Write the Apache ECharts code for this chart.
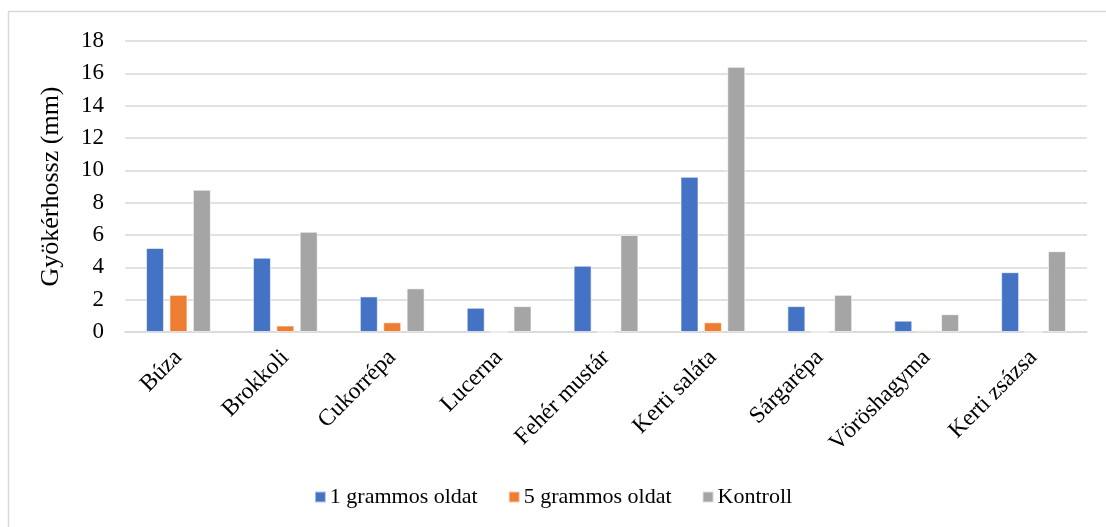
<!DOCTYPE html>
<html>
<head>
<meta charset="utf-8">
<script src="https://cdn.jsdelivr.net/npm/echarts@6/dist/echarts.min.js"></script>
<style>
html,body{margin:0;padding:0;background:#fff;}
#chart{width:1106px;height:527px;}
</style>
</head>
<body>
<div id="chart"></div>
<script>
var categories = ['Búza','Brokkoli','Cukorrépa','Lucerna','Fehér mustár','Kerti saláta','Sárgarépa','Vöröshagyma','Kerti zsázsa'];
var seriesNames = ['1 grammos oldat','5 grammos oldat','Kontroll'];
var gram1 = [5.2, 4.6, 2.2, 1.5, 4.1, 9.6, 1.6, 0.7, 3.7];
var gram5 = [2.3, 0.4, 0.6, 0, 0, 0.6, 0, 0.1, 0];
var kontroll = [8.8, 6.2, 2.7, 1.6, 6.0, 16.4, 2.3, 1.1, 5.0];
var yTicks = [0, 2, 4, 6, 8, 10, 12, 14, 16, 18];

var colors = ['#4472C4', '#ED7D31', '#A5A5A5'];
var font = 'Liberation Serif, Times New Roman, serif';
var chart = echarts.init(document.getElementById('chart'), null, {renderer: 'canvas'});

function mk(name, data, i) {
  return {
    name: name, type: 'bar', data: data,
    barWidth: 18, barGap: '30%',
    itemStyle: {color: colors[i], borderColor: 'rgba(255,255,255,0.6)', borderWidth: 1},
    emphasis: {disabled: true}
  };
}

chart.setOption({
  animation: false,
  textStyle: {fontFamily: font},
  grid: {left: 125, right: 19, top: 41, bottom: 195, containLabel: false},
  graphic: [
    {type: 'line', shape: {x1: 8, y1: 11.5, x2: 1106, y2: 11.5}, style: {stroke: '#D9D9D9', lineWidth: 1.5}},
    {type: 'line', shape: {x1: 8.5, y1: 11, x2: 8.5, y2: 527}, style: {stroke: '#D9D9D9', lineWidth: 1.5}}
  ],
  legend: {
    bottom: 14, left: 'center',
    itemWidth: 11, itemHeight: 11, itemGap: 30,
    icon: 'rect',
    textStyle: {fontFamily: font, fontSize: 22, color: '#000', padding: [0, 0, 0, -1]},
    data: seriesNames
  },
  xAxis: {
    type: 'category', data: categories,
    axisLine: {lineStyle: {color: '#D9D9D9', width: 1.5}},
    axisTick: {show: false},
    axisLabel: {rotate: 45, fontFamily: font, fontSize: 23.5, color: '#000', margin: 22, interval: 0}
  },
  yAxis: {
    type: 'value', min: 0, max: 18, interval: 2,
    name: 'Gyökérhossz (mm)', nameLocation: 'middle', nameGap: 61, nameRotate: 90,
    nameTextStyle: {fontFamily: font, fontSize: 26, color: '#000'},
    axisLine: {show: false}, axisTick: {show: false},
    axisLabel: {fontFamily: font, fontSize: 23, color: '#000', margin: 21,
      formatter: function (v) { return yTicks.indexOf(v) >= 0 ? String(v) : ''; }},
    splitLine: {lineStyle: {color: '#D9D9D9', width: 1.5}}
  },
  series: [mk(seriesNames[0], gram1, 0), mk(seriesNames[1], gram5, 1), mk(seriesNames[2], kontroll, 2)]
});
</script>
</body>
</html>
